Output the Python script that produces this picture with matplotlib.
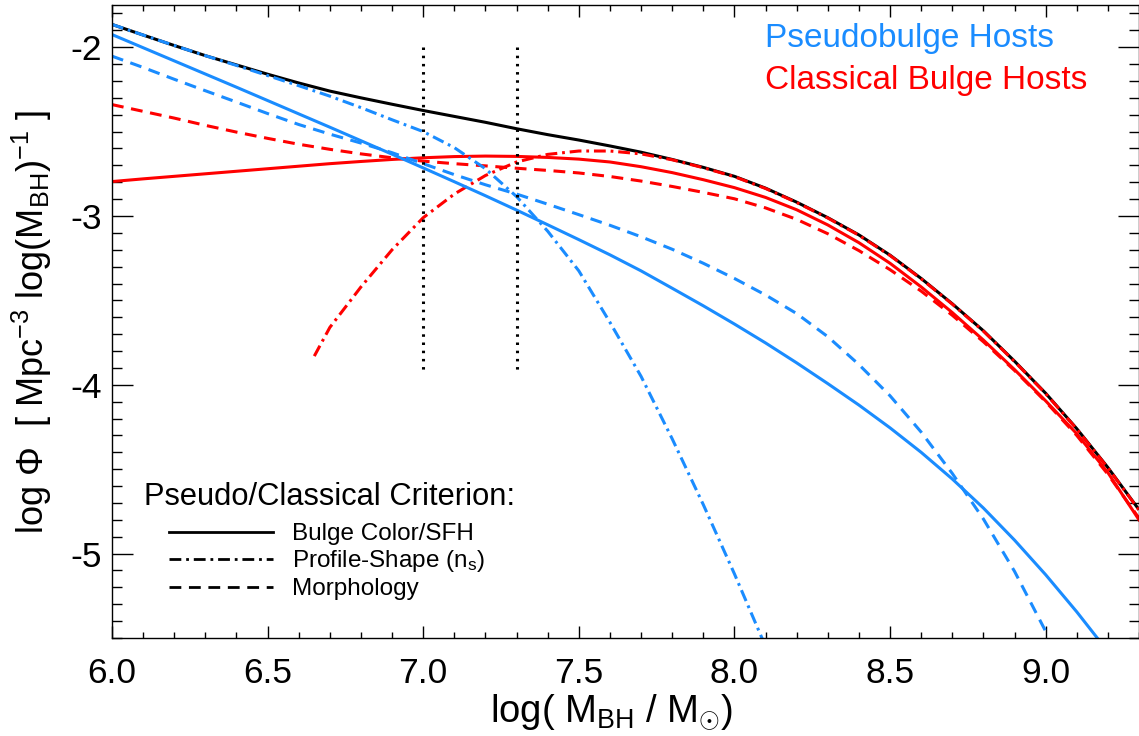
import matplotlib
matplotlib.use('Agg')
import matplotlib.pyplot as plt
from matplotlib.lines import Line2D
from matplotlib.ticker import FixedLocator, MultipleLocator, FixedFormatter

plt.rcParams['font.family'] = ['Liberation Sans', 'DejaVu Sans']
plt.rcParams['mathtext.fontset'] = 'custom'
plt.rcParams['mathtext.rm'] = 'Liberation Sans'
plt.rcParams['mathtext.it'] = 'Liberation Sans'
plt.rcParams['mathtext.bf'] = 'Liberation Sans:bold'
plt.rcParams['axes.unicode_minus'] = False
plt.rcParams['lines.scale_dashes'] = False

# ---------------- data ----------------
x_total = [6.0, 6.1, 6.2, 6.3, 6.4, 6.5, 6.6, 6.7, 6.8, 6.9, 7.0, 7.1, 7.2, 7.3, 7.4,
           7.5, 7.6, 7.7, 7.8, 7.9, 8.0, 8.1, 8.2, 8.3, 8.4, 8.5, 8.6, 8.7, 8.8, 8.9,
           9.0, 9.1, 9.2, 9.3]
y_total = [-1.865, -1.928, -1.99, -2.05, -2.105, -2.16, -2.212, -2.26, -2.30, -2.338,
           -2.375, -2.41, -2.445, -2.483, -2.518, -2.55, -2.585, -2.622, -2.665, -2.712,
           -2.765, -2.835, -2.918, -3.01, -3.112, -3.232, -3.37, -3.52, -3.68, -3.86,
           -4.05, -4.26, -4.49, -4.74]

# Pseudobulge hosts
x_ps_color = [6.0, 6.1, 6.2, 6.3, 6.4, 6.5, 6.6, 6.7, 6.8, 6.9, 7.0, 7.1, 7.2, 7.3, 7.4,
              7.5, 7.6, 7.7, 7.8, 7.9, 8.0, 8.1, 8.2, 8.3, 8.4, 8.5, 8.6, 8.7, 8.8, 8.9,
              9.0, 9.1, 9.2]
y_ps_color = [-1.925, -2.003, -2.081, -2.159, -2.237, -2.316, -2.395, -2.474, -2.554,
              -2.634, -2.715, -2.797, -2.880, -2.965, -3.052, -3.140, -3.230, -3.325,
              -3.428, -3.532, -3.64, -3.752, -3.87, -3.993, -4.12, -4.255, -4.4, -4.558,
              -4.73, -4.92, -5.125, -5.345, -5.58]

x_ps_prof = [6.0, 6.1, 6.2, 6.3, 6.4, 6.5, 6.6, 6.7, 6.8, 6.9, 7.0, 7.1, 7.2, 7.3, 7.4,
             7.5, 7.6, 7.7, 7.8, 7.9, 8.0, 8.1]
y_ps_prof = [-1.865, -1.928, -1.99, -2.05, -2.108, -2.168, -2.228, -2.29, -2.358, -2.43,
             -2.50, -2.595, -2.72, -2.885, -3.09, -3.325, -3.63, -3.95, -4.32, -4.71,
             -5.12, -5.55]

x_ps_morph = [6.0, 6.1, 6.2, 6.3, 6.4, 6.5, 6.6, 6.7, 6.8, 6.9, 7.0, 7.1, 7.2, 7.3, 7.4,
              7.5, 7.6, 7.7, 7.8, 7.9, 8.0, 8.1, 8.2, 8.3, 8.4, 8.5, 8.6, 8.7, 8.8, 8.9,
              9.0]
y_ps_morph = [-2.053, -2.12, -2.19, -2.258, -2.325, -2.393, -2.458, -2.515, -2.568,
              -2.625, -2.69, -2.755, -2.815, -2.87, -2.93, -2.992, -3.055, -3.123, -3.197,
              -3.28, -3.37, -3.468, -3.578, -3.715, -3.88, -4.065, -4.28, -4.525, -4.795,
              -5.105, -5.46]

# Classical bulge hosts
x_cl_color = [6.0, 6.1, 6.2, 6.3, 6.4, 6.5, 6.6, 6.7, 6.8, 6.9, 7.0, 7.1, 7.2, 7.3, 7.4,
              7.5, 7.6, 7.7, 7.8, 7.9, 8.0, 8.1, 8.2, 8.3, 8.4, 8.5, 8.6, 8.7, 8.8, 8.9,
              9.0, 9.1, 9.2, 9.3]
y_cl_color = [-2.796, -2.78, -2.765, -2.75, -2.735, -2.72, -2.705, -2.69, -2.677, -2.665,
              -2.655, -2.648, -2.645, -2.647, -2.653, -2.663, -2.68, -2.708, -2.743,
              -2.785, -2.832, -2.89, -2.963, -3.053, -3.158, -3.28, -3.42, -3.572, -3.735,
              -3.91, -4.095, -4.29, -4.52, -4.80]

x_cl_prof = [6.65, 6.7, 6.8, 6.9, 7.0, 7.1, 7.2, 7.3, 7.4, 7.5, 7.6, 7.7, 7.8, 7.9, 8.0,
             8.1, 8.2, 8.3, 8.4, 8.5, 8.6, 8.7, 8.8, 8.9, 9.0, 9.1, 9.2, 9.3]
y_cl_prof = [-3.83, -3.66, -3.42, -3.20, -3.01, -2.87, -2.76, -2.68, -2.635, -2.615,
             -2.615, -2.632, -2.667, -2.714, -2.767, -2.837, -2.92, -3.012, -3.114,
             -3.234, -3.372, -3.522, -3.682, -3.862, -4.052, -4.262, -4.492, -4.742]

x_cl_morph = [6.0, 6.1, 6.2, 6.3, 6.4, 6.5, 6.6, 6.7, 6.8, 6.9, 7.0, 7.1, 7.2, 7.3, 7.4,
              7.5, 7.6, 7.7, 7.8, 7.9, 8.0, 8.1, 8.2, 8.3, 8.4, 8.5, 8.6, 8.7, 8.8, 8.9,
              9.0, 9.1, 9.2, 9.3]
y_cl_morph = [-2.34, -2.38, -2.42, -2.463, -2.503, -2.54, -2.575, -2.605, -2.632, -2.655,
              -2.675, -2.69, -2.703, -2.717, -2.73, -2.745, -2.766, -2.793, -2.825, -2.86,
              -2.898, -2.952, -3.02, -3.105, -3.205, -3.318, -3.445, -3.588, -3.745,
              -3.915, -4.10, -4.30, -4.53, -4.79]

# vertical dotted markers
vline_x = [7.0, 7.3]
vline_y = [-2.0, -3.92]

x_ticks = [6.0, 6.5, 7.0, 7.5, 8.0, 8.5, 9.0]
x_ticklabels = ['6.0', '6.5', '7.0', '7.5', '8.0', '8.5', '9.0']
y_ticks = [-5, -4, -3, -2]
y_ticklabels = ['-5', '-4', '-3', '-2']

legend_labels = ['Bulge Color/SFH', 'Profile-Shape (n$_{\\rm s}$)', 'Morphology']

# ---------------- styles ----------------
BLUE = '#1a8cff'
RED = '#ff0000'
LW = 2.2
DASH = (0, (8.5, 5.5))
DASHDOT = (0, (8.5, 3.5, 2.0, 3.5))
DOT = (0, (1.8, 4.1))

W, H = 1139, 736
fig = plt.figure(figsize=(W / 100, H / 100), dpi=100)
ax = fig.add_axes([112 / W, 1 - 638 / H, (W - 112) / W, (638 - 5) / H])

ax.plot(x_total, y_total, color='black', lw=LW, solid_capstyle='butt')
ax.plot(x_cl_color, y_cl_color, color=RED, lw=LW)
ax.plot(x_cl_morph, y_cl_morph, color=RED, lw=LW, ls=DASH)
ax.plot(x_cl_prof, y_cl_prof, color=RED, lw=LW, ls=DASHDOT)
ax.plot(x_ps_color, y_ps_color, color=BLUE, lw=LW)
ax.plot(x_ps_morph, y_ps_morph, color=BLUE, lw=LW, ls=DASH)
ax.plot(x_ps_prof, y_ps_prof, color=BLUE, lw=LW, ls=DASHDOT)
for xv in vline_x:
    ax.plot([xv, xv], vline_y, color='black', lw=2.2, ls=DOT)

ax.set_xlim(6.0, 9.3)
ax.set_ylim(-5.5, -1.75)

ax.xaxis.set_major_locator(FixedLocator(x_ticks))
ax.xaxis.set_major_formatter(FixedFormatter(x_ticklabels))
ax.xaxis.set_minor_locator(MultipleLocator(0.1))
ax.yaxis.set_major_locator(FixedLocator(y_ticks))
ax.yaxis.set_major_formatter(FixedFormatter(y_ticklabels))
ax.yaxis.set_minor_locator(MultipleLocator(0.1))

ax.tick_params(axis='x', which='major', direction='in', length=8.6, width=1.0,
               top=True, labelsize=25.5, pad=14)
ax.tick_params(axis='x', which='minor', direction='in', length=4.3, width=1.0, top=True)
ax.tick_params(axis='y', which='major', direction='in', length=15, width=1.0,
               right=True, labelsize=25.5, pad=7)
ax.tick_params(axis='y', which='minor', direction='in', length=7.5, width=1.0, right=True)
for sp in ax.spines.values():
    sp.set_linewidth(1.0)

ax.set_xlabel(r'log( M$_{\rm BH}$ / M$_{\odot}$)', fontsize=27.5, labelpad=2)
ax.xaxis.label.set_x((612 - 112) / (W - 112))
ax.set_ylabel(r'log $\Phi$  [ Mpc$^{-3}$ log(M$_{\rm BH}$)$^{-1}$ ]', fontsize=26,
              labelpad=12)


def fx(px):
    return px / W


def fy(py):
    return 1 - py / H


# top-right annotations
fig.text(fx(765), fy(47), 'Pseudobulge Hosts', color=BLUE, fontsize=24, va='baseline')
fig.text(fx(765), fy(89), 'Classical Bulge Hosts', color=RED, fontsize=24, va='baseline')

# legend (manual, like the original)
fig.text(fx(144), fy(505), 'Pseudo/Classical Criterion:', fontsize=22.2, va='baseline')
leg_styles = ['-', DASHDOT, DASH]
leg_y = [532, 559, 587]
for ls_, yy, lab in zip(leg_styles, leg_y, legend_labels):
    fig.add_artist(Line2D([fx(169), fx(273)], [fy(yy), fy(yy)], color='black', lw=2.0,
                          ls=ls_, transform=fig.transFigure))
    fig.text(fx(292), fy(yy + 8), lab, fontsize=17.5, va='baseline')

fig.savefig('out.png', dpi=100)
